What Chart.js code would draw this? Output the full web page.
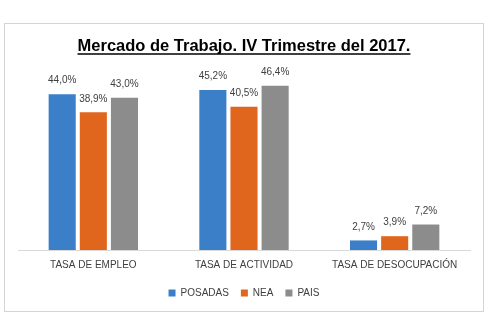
<!DOCTYPE html>
<html lang="es">
<head>
<meta charset="utf-8">
<title>Mercado de Trabajo</title>
<script src="https://cdn.jsdelivr.net/npm/chart.js@4.4.0/dist/chart.umd.min.js"></script>
<style>
  html, body { margin: 0; padding: 0; background: #fff; }
  #wrap { position: relative; width: 493px; height: 336px; }
</style>
</head>
<body>
<div id="wrap"><canvas id="myChart"></canvas></div>
<script>
/* Datos del gráfico. */
const categorias = ["TASA DE EMPLEO", "TASA DE ACTIVIDAD", "TASA DE DESOCUPACIÓN"];
const posadas = [44.0, 45.2, 2.7];
const nea = [38.9, 40.5, 3.9];
const pais = [43.0, 46.4, 7.2];
const titulo = "Mercado de Trabajo. IV Trimestre del 2017.";

const ctx = document.getElementById("myChart");
const fuente = "'Liberation Sans', Arial, sans-serif";

Chart.defaults.font.family = fuente;
Chart.defaults.color = "#404040";

/**
 * Formatea el valor con coma decimal, como en el original.
 */
const formato = (v) => v.toFixed(1).replace(".", ",") + "%";

/* Marco gris alrededor del gráfico. */
const marco = {
  id: "marco",
  beforeDraw: (chart) => {
    const c = chart.ctx;
    c.save();
    c.strokeStyle = "#d4d4d4";
    c.lineWidth = 1;
    c.strokeRect(4.5, 23.5, 479, 288);
    c.restore();
  },
};

/* Subrayado del título. */
const subrayado = {
  id: "subrayado",
  afterDraw: (chart) => {
    const t = chart.titleBlock;
    const c = chart.ctx;
    c.save();
    c.font = "bold 16.5px " + fuente;
    const w = c.measureText(titulo).width;
    const cx = (t.left + t.right) / 2;
    const y = t.top + t.options.padding.top + 17.5;
    c.strokeStyle = "#000";
    c.lineWidth = 1.5;
    c.beginPath();
    c.moveTo(cx - w / 2, y);
    c.lineTo(cx + w / 2, y);
    c.stroke();
    c.restore();
  },
};

/* Etiquetas de valor encima de cada barra. */
const etiquetas = {
  id: "etiquetas",
  afterDatasetsDraw: (chart) => {
    const c = chart.ctx;
    c.save();
    c.font = "10px " + fuente;
    c.fillStyle = "#404040";
    c.textAlign = "center";
    c.textBaseline = "middle";
    chart.data.datasets.forEach((ds, i) => {
      chart.getDatasetMeta(i).data.forEach((bar, j) => {
        c.fillText(formato(ds.data[j]), bar.x, bar.y - 13.5);
      });
    });
    c.restore();
  },
};

const config = {
  type: "bar",
  data: {
    labels: categorias,
    datasets: [
      { label: "POSADAS", data: posadas, backgroundColor: "#3b7fc8" },
      { label: "NEA", data: nea, backgroundColor: "#e0661d" },
      { label: "PAIS", data: pais, backgroundColor: "#8c8c8c" },
    ],
  },
  options: {
    responsive: true,
    maintainAspectRatio: false,
    animation: false,
    categoryPercentage: 0.62,
    barPercentage: 0.87,
    layout: { padding: { left: 18, right: 23, top: 0, bottom: 28 } },
    scales: {
      x: {
        grid: { display: false, drawTicks: false },
        border: { display: true, color: "#d9d9d9", width: 1 },
        ticks: { padding: 9, font: { size: 10 }, color: "#404040" },
        afterFit: (scale) => { scale.height -= 4; },
      },
      y: { display: false, min: 0, max: 50 },
    },
    plugins: {
      title: {
        display: true,
        text: titulo,
        color: "#000",
        font: { size: 16.5, weight: "bold" },
        padding: { top: 36.5, bottom: 16.7 },
      },
      legend: {
        position: "bottom",
        labels: { boxWidth: 7, boxHeight: 7, padding: 12, font: { size: 10 }, color: "#404040" },
      },
      tooltip: { enabled: false },
    },
  },
  plugins: [marco, subrayado, etiquetas],
};

const myChart = new Chart(ctx, config);
</script>
</body>
</html>
